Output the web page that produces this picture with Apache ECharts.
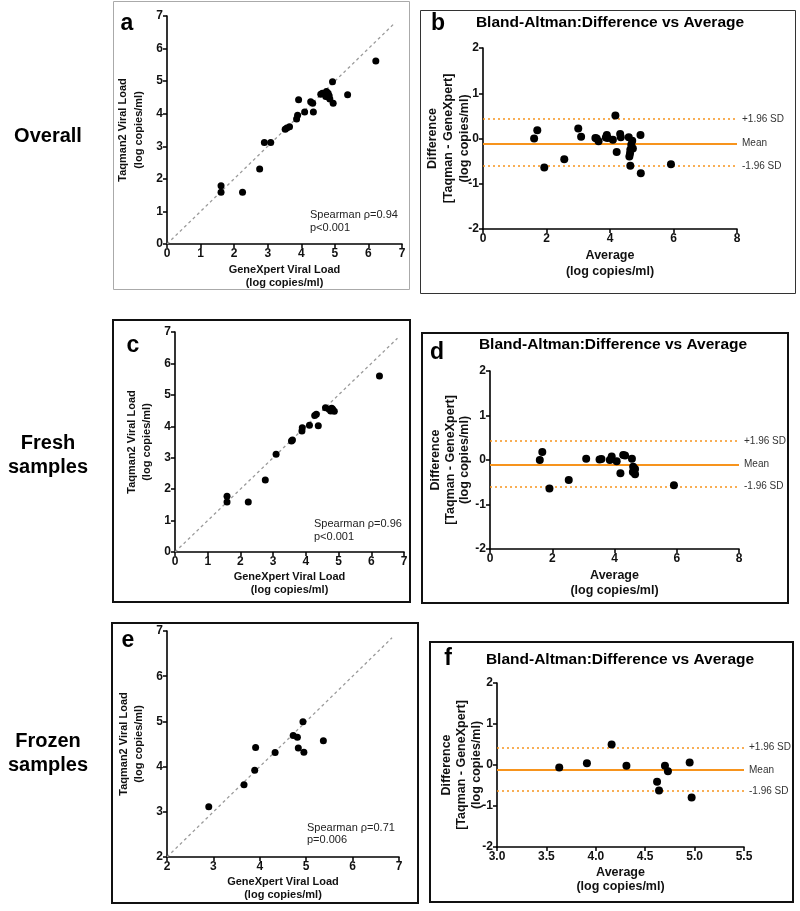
<!DOCTYPE html>
<html><head><meta charset="utf-8">
<script src="https://cdn.jsdelivr.net/npm/echarts@6/dist/echarts.min.js"></script>
<style>html,body{margin:0;padding:0;background:#fff}#c{width:800px;height:911px}</style>
</head><body><div id="c"></div><script>
// ---------- DATA ----------
// Panel a: Overall (GeneXpert vs Taqman2, log copies/ml)
const overallGeneXpert = [1.61,1.61,2.25,2.76,2.90,3.09,3.52,3.57,3.65,3.86,3.89,3.92,4.10,4.36,4.28,4.34,4.58,4.63,4.75,4.80,4.73,4.80,4.85,4.83,4.93,4.95,5.38,6.22];
const overallTaqman    = [1.79,1.59,1.59,2.30,3.12,3.12,3.52,3.56,3.60,3.84,3.95,4.43,4.05,4.05,4.37,4.32,4.60,4.63,4.68,4.63,4.53,4.51,4.45,4.55,4.98,4.32,4.58,5.62];
// Panel b: Overall Bland-Altman
const overallAverage = [1.61,1.71,1.93,2.56,3.00,3.09,3.54,3.58,3.64,3.87,3.90,3.93,4.09,4.17,4.21,4.32,4.34,4.59,4.61,4.63,4.64,4.64,4.67,4.70,4.72,4.96,4.97,5.92];
const overallDiff    = [0.00,0.18,-0.64,-0.46,0.22,0.04,0.01,0.00,-0.06,0.02,0.08,0.01,-0.03,0.51,-0.30,0.10,0.03,0.03,-0.40,-0.33,-0.25,-0.60,-0.14,-0.05,-0.22,0.08,-0.77,-0.57];
const overallLimits  = [0.43,-0.11,-0.61]; // +1.96 SD, mean, -1.96 SD
// Panel c: Fresh samples
const freshGeneXpert = [1.59,1.59,2.24,2.76,3.09,3.56,3.59,3.88,3.89,4.11,4.38,4.27,4.32,4.60,4.71,4.76,4.82,4.87,4.79,6.25];
const freshTaqman    = [1.77,1.59,1.59,2.29,3.11,3.53,3.56,3.85,3.95,4.03,4.02,4.34,4.38,4.59,4.54,4.49,4.54,4.48,4.57,5.60];
// Panel d: Fresh Bland-Altman
const freshAverage = [1.60,1.68,1.91,2.53,3.09,3.52,3.58,3.85,3.91,4.07,4.19,4.28,4.34,4.56,4.60,4.66,4.66,4.59,5.91];
const freshDiff    = [0.00,0.18,-0.64,-0.45,0.03,0.01,0.02,0.00,0.08,-0.03,-0.30,0.11,0.10,0.03,-0.15,-0.20,-0.32,-0.27,-0.57];
const freshLimits  = [0.43,-0.10,-0.60];
// Panel e: Frozen samples
const frozenGeneXpert = [2.90,3.66,3.89,3.91,4.33,4.72,4.81,4.83,4.93,4.95,5.37];
const frozenTaqman    = [3.11,3.60,3.92,4.42,4.31,4.69,4.65,4.41,4.99,4.32,4.57];
// Panel f: Frozen Bland-Altman
const frozenAverage = [3.63,3.91,4.16,4.31,4.62,4.64,4.70,4.73,4.95,4.97];
const frozenDiff    = [-0.06,0.04,0.50,-0.02,-0.41,-0.62,-0.02,-0.15,0.06,-0.79];
const frozenLimits  = [0.43,-0.12,-0.63];
// identity line ends
const identityOverall = [0, 6.8];
const identityFrozen  = [2, 6.85];
// texts
const limitLabels = ['+1.96 SD','Mean','-1.96 SD'];
const spearmanTexts = ['Spearman \u03c1=0.94\np<0.001','Spearman \u03c1=0.96\np<0.001','Spearman \u03c1=0.71\np=0.006'];
const baTitle = 'Bland-Altman:Difference vs Average';

// ---------- STYLE / BUILD ----------
const F = "'Liberation Sans', Arial, Helvetica, sans-serif";
const zip = (a,b) => a.map((v,i)=>[v,b[i]]);

const grids = [
  {left:167, top:16,  width:235, height:228},
  {left:483, top:48,  width:254, height:181},
  {left:175, top:332, width:229, height:220},
  {left:490, top:371, width:249, height:178},
  {left:167, top:631, width:232, height:226},
  {left:497, top:683, width:247, height:164}
].map(g => Object.assign({outerBoundsMode:'none', containLabel:false}, g));

function axisBase(gi, min, max, interval, name, nameSize, lh, gap, fmt) {
  return {
    gridIndex: gi, type:'value', min, max, interval,
    name, nameLocation:'middle', nameGap: gap, nameMoveOverlap:false,
    nameTextStyle:{fontFamily:F, fontWeight:'bold', fontSize:nameSize, lineHeight:lh, color:'#111'},
    axisLine:{show:true, onZero:false, lineStyle:{color:'#000', width:1.6}},
    axisTick:{show:true, inside:false, length:4, lineStyle:{color:'#000', width:1.5}},
    axisLabel:{fontFamily:F, fontWeight:'bold', fontSize:12, color:'#111', margin:4, formatter: fmt},
    splitLine:{show:false}
  };
}
const scX = 'GeneXpert Viral Load\n(log copies/ml)';
const scY = 'Taqman2 Viral Load\n(log copies/ml)';
const baX = 'Average\n(log copies/ml)';
const baY = 'Difference\n[Taqman - GeneXpert]\n(log copies/ml)';
const intFmt = v => String(v);
const decFmt = v => v.toFixed(1);

const xAxes = [
  axisBase(0,0,7,1,scX,11,13.5,19,intFmt),
  axisBase(1,0,8,2,baX,12.5,16,19,intFmt),
  axisBase(2,0,7,1,scX,11,13.5,18,intFmt),
  axisBase(3,0,8,2,baX,12.5,15,19,intFmt),
  axisBase(4,2,7,1,scX,11,13.5,18,intFmt),
  axisBase(5,3,5.5,0.5,baX,12.5,14,19,decFmt)
];
const yAxes = [
  axisBase(0,0,7,1,scY,11,16,20,intFmt),
  axisBase(1,-2,2,1,baY,12.5,16,10,intFmt),
  axisBase(2,0,7,1,scY,11,15,21,intFmt),
  axisBase(3,-2,2,1,baY,12.5,14.5,18,intFmt),
  axisBase(4,2,7,1,scY,11,15,21,intFmt),
  axisBase(5,-2,2,1,baY,12.5,15,13,intFmt)
];

const dot = {color:'#000', opacity:1};
function scatter(i, data, size) {
  return {type:'scatter', xAxisIndex:i, yAxisIndex:i, data, symbolSize:size, itemStyle:dot, silent:true, z:5};
}
function identity(i, ends) {
  return {type:'line', xAxisIndex:i, yAxisIndex:i, data: ends.map(v=>[v,v]), symbol:'none', silent:true,
    lineStyle:{color:'#9a9a9a', width:1.3, type:[3,3]}, z:2};
}
function baSeries(i, data, limits) {
  const s = scatter(i, data, 8);
  s.markLine = {
    silent:true, symbol:['none','none'], animation:false,
    data: limits.map((v,k)=>({
      yAxis:v,
      lineStyle:{color:'#F7941D', width: k===1?2:1.5, type: k===1?'solid':[2,3]},
      label:{show:true, position:'end', formatter: limitLabels[k], fontFamily:F, fontSize:10, color:'#333', distance:5}
    }))
  };
  return s;
}

const series = [
  identity(0, identityOverall), scatter(0, zip(overallGeneXpert, overallTaqman), 7),
  baSeries(1, zip(overallAverage, overallDiff), overallLimits),
  identity(2, identityOverall), scatter(2, zip(freshGeneXpert, freshTaqman), 7),
  baSeries(3, zip(freshAverage, freshDiff), freshLimits),
  identity(4, identityFrozen), scatter(4, zip(frozenGeneXpert, frozenTaqman), 7),
  baSeries(5, zip(frozenAverage, frozenDiff), frozenLimits)
];

function rect(x,y,w,h,stroke,lw){ return {type:'rect', shape:{x,y,width:w,height:h}, style:{fill:'none', stroke, lineWidth:lw}, silent:true, z:0}; }
function text(x,y,t,font,align,valign,fill,lh){
  return {type:'text', x, y, silent:true, z:10,
    style:{text:t, font, fill: fill||'#000', textAlign:align, align, textVerticalAlign:valign, verticalAlign:valign, lineHeight: lh}};
}
const graphic = [
  rect(113.5,1.5,296,288,'#aaa',1),
  rect(420.5,10.5,375,283,'#333',1),
  rect(113,320,297,282,'#111',2),
  rect(422,333,366,270,'#111',2),
  rect(112,623,306,280,'#111',2),
  rect(430,642,363,260,'#111',2),
  // row labels
  text(48,136,'Overall','bold 20px '+F,'center','middle','#000',24),
  text(48,455,'Fresh\nsamples','bold 20px '+F,'center','middle','#000',24),
  text(48,753,'Frozen\nsamples','bold 20px '+F,'center','middle','#000',24),
  // panel letters
  text(127,24,'a','bold 23px '+F,'center','middle'),
  text(438,24,'b','bold 23px '+F,'center','middle'),
  text(133,346,'c','bold 23px '+F,'center','middle'),
  text(437,353,'d','bold 23px '+F,'center','middle'),
  text(128,641,'e','bold 23px '+F,'center','middle'),
  text(448,659,'f','bold 23px '+F,'center','middle'),
  // titles
  text(610,23,baTitle,'bold 15.5px '+F,'center','middle'),
  text(613,345,baTitle,'bold 15.5px '+F,'center','middle'),
  text(620,660,baTitle,'bold 15.5px '+F,'center','middle'),
  // spearman
  text(310,221,spearmanTexts[0],'11px '+F,'left','middle','#222',13),
  text(314,530,spearmanTexts[1],'11px '+F,'left','middle','#222',13),
  text(307,834,spearmanTexts[2],'11px '+F,'left','middle','#222',12)
];

const chart = echarts.init(document.getElementById('c'), null, {renderer:'canvas'});
chart.setOption({
  animation:false,
  backgroundColor:'#fff',
  textStyle:{fontFamily:F},
  grid: grids, xAxis: xAxes, yAxis: yAxes, series, graphic
});
</script></body></html>
